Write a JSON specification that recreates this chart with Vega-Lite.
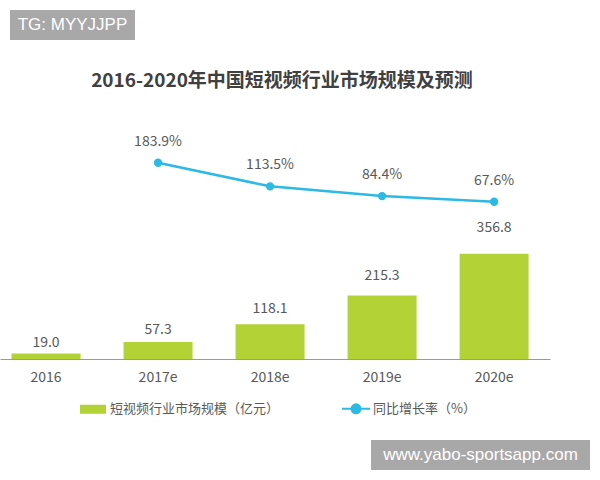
{
  "$schema": "https://vega.github.io/schema/vega-lite/v6.json",
  "autosize": "none",
  "width": 550,
  "height": 259,
  "padding": {"top": 100, "left": 0, "right": 50, "bottom": 121},
  "background": "white",
  "title": {
    "text": "2016-2020年中国短视频行业市场规模及预测",
    "font": "Noto Sans CJK SC",
    "fontSize": 19,
    "fontWeight": "bold",
    "color": "#404040",
    "anchor": "middle",
    "frame": "group",
    "baseline": "alphabetic",
    "offset": 14,
    "dx": 7,
    "dy": 110
  },
  "config": {
    "view": {"stroke": null},
    "text": {"font": "Noto Sans CJK SC", "fontSize": 14, "fill": "#595959"}
  },
  "data": {
    "values": [
      {"year": "2016", "value": 19.0, "rate": null},
      {"year": "2017e", "value": 57.3, "rate": 1.839},
      {"year": "2018e", "value": 118.1, "rate": 1.135},
      {"year": "2019e", "value": 215.3, "rate": 0.844},
      {"year": "2020e", "value": 356.8, "rate": 0.676}
    ]
  },
  "encoding": {
    "x": {
      "field": "year",
      "type": "nominal",
      "sort": null,
      "scale": {"paddingInner": 0.384, "paddingOuter": 0.147, "align": 0.35},
      "axis": {
        "title": null,
        "labelAngle": 0,
        "ticks": false,
        "domainColor": "#9a9a9a",
        "domainWidth": 1,
        "labelFont": "Noto Sans CJK SC",
        "labelFontSize": 14,
        "labelColor": "#595959",
        "labelPadding": 11
      }
    }
  },
  "layer": [
    {
      "mark": {"type": "bar"},
      "encoding": {
        "y": {"field": "value", "type": "quantitative", "scale": {"domain": [0, 878], "nice": false}, "axis": null},
        "color": {
          "datum": "短视频行业市场规模（亿元）",
          "scale": {"domain": ["短视频行业市场规模（亿元）", "同比增长率（%）"], "range": ["#b3d236", "#2cb9e3"]},
          "legend": {
            "title": null,
            "orient": "none",
            "direction": "horizontal",
            "legendX": 78,
            "legendY": 293.5,
            "padding": 0,
            "symbolSize": 784,
            "labelOffset": 2,
            "columnPadding": 58,
            "labelFont": "Noto Sans CJK SC",
            "labelFontSize": 13,
            "labelColor": "#595959",
            "labelLimit": 400,
            "encode": {
              "symbols": {
                "update": {
                  "shape": {"signal": "datum.value === '同比增长率（%）' ? 'M-1,0H1M0.32,0A0.32,0.32,0,1,1,-0.32,0A0.32,0.32,0,1,1,0.32,0Z' : 'M-0.857,-0.25H0.857V0.25H-0.857Z'"},
                  "fill": {"signal": "datum.value === '同比增长率（%）' ? '#2cb9e3' : '#b3d236'"},
                  "stroke": {"signal": "datum.value === '同比增长率（%）' ? '#2cb9e3' : 'transparent'"},
                  "strokeWidth": {"value": 2},
                  "opacity": {"value": 1}
                }
              }
            }
          }
        }
      }
    },
    {
      "mark": {"type": "text", "baseline": "middle", "dy": -9.5},
      "encoding": {
        "y": {"field": "value", "type": "quantitative", "scale": {"domain": [0, 761.8], "nice": false}, "axis": null},
        "text": {"field": "value", "type": "quantitative", "format": ".1f"}
      }
    },
    {
      "transform": [{"filter": "datum.rate != null"}],
      "mark": {"type": "line", "strokeWidth": 2.5, "point": {"filled": true, "size": 70}},
      "encoding": {
        "y": {"field": "rate", "type": "quantitative", "scale": {"domain": [-4.014, 3.71], "nice": false, "zero": false}, "axis": null},
        "color": {"datum": "同比增长率（%）"}
      }
    },
    {
      "transform": [{"filter": "datum.rate != null"}],
      "mark": {"type": "text", "baseline": "middle", "dy": -21},
      "encoding": {
        "y": {"field": "rate", "type": "quantitative", "scale": {"domain": [-4.014, 3.71], "nice": false, "zero": false}, "axis": null},
        "text": {"field": "rate", "type": "quantitative", "format": ".1%"}
      }
    },
    {
      "data": {"values": [{"tag": "TG: MYYJJPP"}]},
      "layer": [
        {
          "mark": {"type": "rect", "fill": "#a8a8a8"},
          "encoding": {"x": {"value": 10}, "x2": {"value": 135}, "y": {"value": -90}, "y2": {"value": -60}}
        },
        {
          "mark": {"type": "text", "font": "Liberation Sans", "fontSize": 17, "fill": "white", "align": "center", "baseline": "middle"},
          "encoding": {"x": {"value": 72.5}, "y": {"value": -75}, "text": {"field": "tag"}}
        }
      ]
    },
    {
      "data": {"values": [{"tag": "www.yabo-sportsapp.com"}]},
      "layer": [
        {
          "mark": {"type": "rect", "fill": "#a8a8a8"},
          "encoding": {"x": {"value": 371}, "x2": {"value": 590}, "y": {"value": 340}, "y2": {"value": 370}}
        },
        {
          "mark": {"type": "text", "font": "Liberation Sans", "fontSize": 17, "fill": "white", "align": "center", "baseline": "middle"},
          "encoding": {"x": {"value": 480.5}, "y": {"value": 355}, "text": {"field": "tag"}}
        }
      ]
    }
  ],
  "resolve": {"scale": {"y": "independent"}}
}
